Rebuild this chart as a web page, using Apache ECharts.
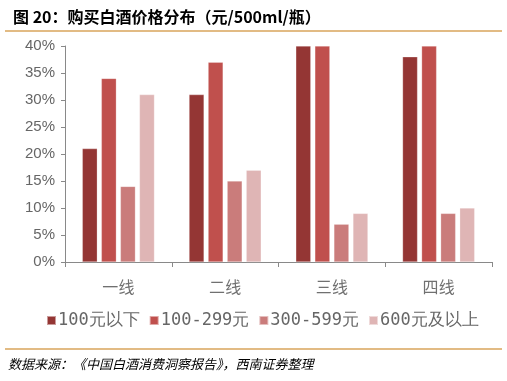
<!DOCTYPE html>
<html><head><meta charset="utf-8">
<script src="https://cdn.jsdelivr.net/npm/echarts@6/dist/echarts.min.js"></script>
<style>html,body{margin:0;padding:0;background:#fff}#c{width:507px;height:381px}</style>
</head><body><div id="c"></div>
<script>
const categories = ['一线', '二线', '三线', '四线'];
const seriesNames = ['100元以下', '100-299元', '300-599元', '600元及以上'];
const s1 = [21, 31, 40, 38];
const s2 = [34, 37, 40, 40];
const s3 = [14, 15, 7, 9];
const s4 = [31, 17, 9, 10];
const yTicks = [0, 5, 10, 15, 20, 25, 30, 35, 40];
const colors = ['#943634', '#C0504D', '#CA7C7B', '#DFB5B5'];
const values = [s1, s2, s3, s4];

const chart = echarts.init(document.getElementById('c'), null, {renderer: 'canvas'});
chart.setOption({
  animation: false,
  title: {
    text: '图 20：购买白酒价格分布（元/500ml/瓶）',
    left: 8, top: 4,
    textStyle: {fontSize: 16, fontWeight: 'bold', color: '#000', fontFamily: 'Noto Sans CJK SC'}
  },
  graphic: [
    {type: 'line', shape: {x1: 5, y1: 31, x2: 502, y2: 31}, style: {stroke: '#D9A55B', lineWidth: 1.5}},
    {type: 'line', shape: {x1: 5, y1: 349, x2: 502, y2: 349}, style: {stroke: '#D9A55B', lineWidth: 1.5}},
    {type: 'text', left: 8, top: 358, style: {text: '数据来源：《中国白酒消费洞察报告》，西南证券整理', font: 'italic 13px "Noto Sans CJK SC"', fill: '#000'}}
  ],
  grid: {left: 65, right: 15, top: 46, bottom: 119},
  legend: {
    bottom: 47, left: 41,
    itemWidth: 9, itemHeight: 9, itemGap: 9,
    icon: 'rect',
    textStyle: {fontSize: 17, color: '#666', fontFamily: 'DejaVu Sans Mono', padding: [0, 0, 0, -3]},
    data: seriesNames
  },
  xAxis: {
    type: 'category', data: categories,
    axisLine: {lineStyle: {color: '#898989', width: 1}},
    axisTick: {show: true, length: 5, lineStyle: {color: '#898989'}},
    axisLabel: {fontSize: 16, color: '#707070', margin: 17, fontFamily: 'Noto Sans CJK SC'}
  },
  yAxis: {
    type: 'value', min: yTicks[0], max: yTicks[yTicks.length - 1], interval: 5,
    axisLine: {show: true, lineStyle: {color: '#898989'}},
    axisTick: {show: true, length: 4, lineStyle: {color: '#898989'}},
    splitLine: {show: false},
    axisLabel: {fontSize: 15, color: '#666', margin: 10, formatter: v => v + '%', fontFamily: 'Liberation Sans'}
  },
  series: seriesNames.map((n, i) => ({
    name: n, type: 'bar', data: values[i],
    barWidth: 15, barGap: '27%',
    itemStyle: {color: colors[i], borderColor: 'rgba(255,255,255,0.5)', borderWidth: 0.5}
  }))
});
</script></body></html>
